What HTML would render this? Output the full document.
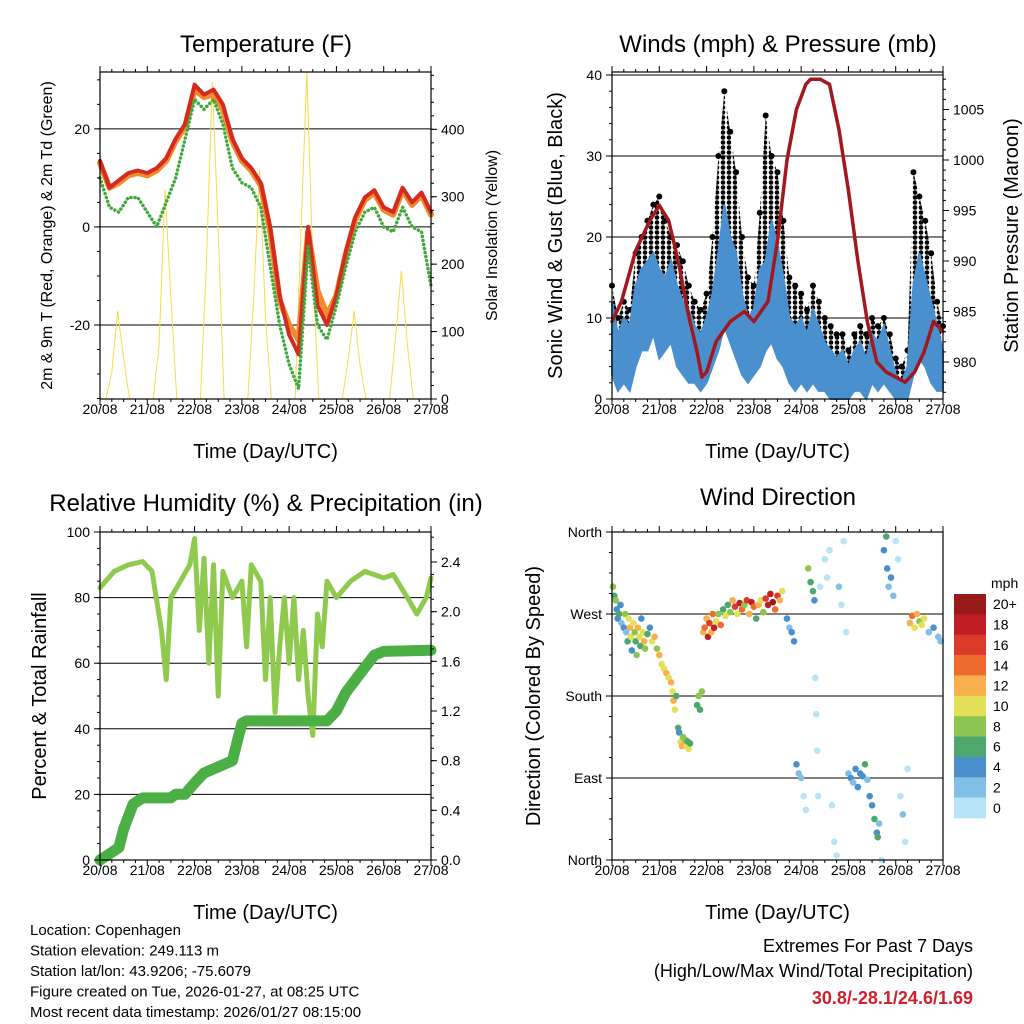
<!DOCTYPE html>
<html><head><meta charset="utf-8"><style>
body{margin:0;background:#fff;}
svg{display:block;font-family:"Liberation Sans",sans-serif;}
</style></head><body>
<svg id="chart" width="1024" height="1024" viewBox="0 0 1024 1024" xmlns="http://www.w3.org/2000/svg">
<defs>
<pattern id="dots" width="6" height="5" patternUnits="userSpaceOnUse"><circle cx="3" cy="2.5" r="2.3" fill="#000"/></pattern>
</defs>
<g id="layer"></g>
</svg>
<script>
// ---- data ----
const dayLabels = ["20/08","21/08","22/08","23/08","24/08","25/08","26/08","27/08"];
const tempTimes = [0,0.2,0.4,0.6,0.8,1.0,1.2,1.4,1.6,1.8,2.0,2.2,2.4,2.6,2.8,3.0,3.2,3.4,3.6,3.8,4.0,4.2,4.4,4.6,4.8,5.0,5.2,5.4,5.6,5.8,6.0,6.2,6.4,6.6,6.8,7.0];
const temp2m = [13.5,8,9.5,11,11.5,11,12,14,18,21,29,27,28,25,18,14,12,9,0,-14,-22,-26,0,-16,-20,-14,-5,2,6,7.5,4,3,8,5,7,3];
const temp9m = [13,8,9,10.5,11,10.5,11.5,13.5,17.5,20.5,28,26.5,27,24,17.5,13.5,11.5,8.5,-1,-15,-20,-23,-1,-13,-18,-14,-5.5,1.5,5.5,7,3.5,2.5,7.5,4.5,6.5,2.5];
const dewpoint = [10,4,3,6,6,3,0,5,10,18,26,24,26,21,12,9,8,4,-8,-20,-28,-33,-4,-20,-23,-16,-8,-1,3,4,0,-1,4,0,-1,-12];
const solarTimes = [0,0.125,0.25,0.375,0.5,0.625,0.75,0.875,1,1.125,1.25,1.375,1.5,1.625,1.75,1.875,2,2.125,2.25,2.375,2.5,2.625,2.75,2.875,3,3.125,3.25,3.375,3.5,3.625,3.75,3.875,4,4.125,4.25,4.375,4.5,4.625,4.75,4.875,5,5.125,5.25,5.375,5.5,5.625,5.75,5.875,6,6.125,6.25,6.375,6.5,6.625,6.75,6.875,7];
const solar = [0,0,40,130,60,0,0,0,0,0,80,310,150,0,0,0,0,0,200,470,250,0,0,0,0,0,150,340,120,0,0,0,0,0,250,485,200,0,0,0,0,0,60,130,50,0,0,0,0,0,90,190,80,0,0,0,0];
const windTimes = solarTimes;
const windHi = [12,8,10,9,14,16,17,18,16,15,17,14,12,11,9,8,10,13,18,24,20,18,13,10,11,16,17,22,19,15,10,9,10,8,11,9,7,6,5,6,4,6,7,5,8,7,9,6,3,2,4,14,18,15,12,9,6];
const windLo = [3,1,2,1,4,6,6,8,5,6,7,4,3,2,2,1,2,4,6,9,7,5,3,2,3,4,6,7,5,4,2,1,2,1,2,1,1,0,0,0,0,1,1,0,2,1,2,1,0,0,0,3,5,4,2,1,1];
const gust = [14,10,12,11,18,20,22,24,25,22,20,19,17,14,12,11,13,20,30,38,33,28,20,15,14,23,35,30,28,22,15,14,13,11,14,12,10,9,8,8,6,8,9,8,10,9,10,8,5,4,6,28,25,22,18,12,9];
const presTimes = [0,0.2,0.5,0.8,1.0,1.2,1.4,1.6,1.8,1.9,2.0,2.2,2.5,2.8,3.0,3.3,3.5,3.7,3.9,4.1,4.2,4.4,4.6,4.8,5.0,5.2,5.4,5.6,5.8,6.0,6.2,6.4,6.6,6.8,7.0];
const pressure = [984,986,991,994,995.5,994,990,985,981,978.5,979,982,984,985,984,986,992,1000,1005,1007.5,1008,1008,1007.5,1003,997,990,984,980,979,978.5,978,979,981,984,983];
const rhTimes = [0,0.3,0.6,0.9,1.1,1.3,1.4,1.5,1.7,1.9,2.0,2.1,2.2,2.3,2.4,2.5,2.6,2.8,3.0,3.1,3.2,3.4,3.5,3.6,3.7,3.8,3.9,4.0,4.1,4.2,4.3,4.4,4.5,4.6,4.7,4.8,5.0,5.3,5.6,6.0,6.2,6.5,6.7,6.9,7.0];
const rh = [83,88,90,91,88,70,55,80,85,90,98,70,92,60,90,50,88,80,85,65,90,85,55,80,45,65,80,60,80,55,70,50,38,75,65,85,80,85,88,86,87,80,75,80,86];
const rainTimes = [0,0.2,0.4,0.5,0.6,0.7,0.9,1.0,1.5,1.6,1.8,2.0,2.2,2.5,2.8,2.9,3.0,3.1,4.0,4.8,5.0,5.2,5.4,5.6,5.8,6.0,7.0];
const rain = [0,0.05,0.1,0.25,0.35,0.45,0.5,0.5,0.5,0.53,0.53,0.62,0.7,0.75,0.8,0.95,1.1,1.12,1.12,1.12,1.2,1.35,1.45,1.55,1.65,1.68,1.69];
const dirT = [0.02,0.05,0.08,0.1,0.12,0.15,0.18,0.2,0.25,0.28,0.3,0.33,0.35,0.38,0.4,0.42,0.45,0.48,0.5,0.52,0.55,0.58,0.6,0.62,0.65,0.68,0.7,0.75,0.8,0.85,0.9,0.95,1.0,1.05,1.1,1.15,1.2,1.25,1.28,1.3,1.33,1.36,1.4,1.42,1.45,1.48,1.5,1.52,1.55,1.58,1.6,1.62,1.65,1.8,1.83,1.86,1.9,1.93,1.96,2.0,2.03,2.06,2.1,2.13,2.16,2.2,2.25,2.3,2.35,2.4,2.45,2.5,2.55,2.6,2.65,2.7,2.75,2.8,2.85,2.9,2.95,3.0,3.05,3.1,3.15,3.2,3.25,3.3,3.35,3.4,3.45,3.5,3.55,3.6,3.7,3.75,3.8,3.85,3.9,3.95,4.0,4.05,4.1,4.15,4.2,4.25,4.28,4.3,4.32,4.34,4.36,4.4,4.5,4.55,4.6,4.65,4.7,4.75,4.8,4.85,4.9,4.95,5.0,5.05,5.1,5.15,5.2,5.25,5.3,5.35,5.4,5.45,5.5,5.55,5.6,5.62,5.65,5.7,5.75,5.8,5.82,5.85,5.9,5.95,6.0,6.05,6.1,6.15,6.2,6.25,6.3,6.35,6.4,6.45,6.5,6.55,6.6,6.7,6.8,6.9,6.95];
const dirD = [300,290,285,275,265,270,280,260,255,270,250,240,265,255,245,230,260,250,240,225,255,245,235,265,250,240,232,248,255,240,245,232,225,215,210,205,200,195,185,175,165,180,145,140,130,125,135,128,132,125,130,122,128,170,180,165,185,250,255,265,245,260,250,270,255,262,270,258,275,268,280,272,285,278,270,282,275,280,285,270,283,278,265,280,285,272,287,280,292,283,275,290,285,295,265,255,250,240,105,95,90,70,55,320,305,295,285,200,160,120,70,300,330,310,340,60,20,5,300,280,350,250,95,90,85,100,80,95,92,105,88,70,60,45,30,25,40,0,340,355,320,300,310,290,350,330,70,50,20,100,260,268,255,270,262,258,265,250,255,245,240];
const dirS = [8,6,8,4,4,6,4,3,4,8,2,6,10,12,11,4,10,8,6,9,12,10,6,4,11,12,8,6,4,10,12,9,12,10,11,12,10,13,11,12,10,7,6,4,10,12,9,13,8,11,6,10,7,7,8,6,9,13,15,12,18,16,12,14,19,10,8,14,7,10,6,8,12,16,10,18,14,9,16,12,18,14,6,12,10,8,16,19,18,20,14,16,12,10,4,3,4,5,4,3,2,1,1,8,6,7,5,1,1,1,1,0,1,1,0,1,0,1,2,1,0,1,3,4,3,4,4,5,4,6,2,4,4,6,5,6,3,1,4,6,4,3,4,2,1,0,1,2,1,1,12,14,10,12,8,11,10,3,4,3,2];
const speedLabels = ["20+","18","16","14","12","10","8","6","4","2","0"];
const speedColors = ["#b8e4f7","#82bfe6","#4a8fcb","#4ea86e","#8cc552","#e5e05a","#f8b04c","#ee6c2e","#dc3a2a","#be1e24","#971a1b"];

// ---- helpers ----
const NS="http://www.w3.org/2000/svg";
const layer=document.getElementById('layer');
function mk(tag,attrs,parent){const e=document.createElementNS(NS,tag);for(const k in attrs)e.setAttribute(k,attrs[k]);(parent||layer).appendChild(e);return e;}
function txt(s,x,y,size,anchor,parent,extra){const e=mk('text',Object.assign({x:x,y:y,'font-size':size,'text-anchor':anchor||'start',fill:'#000'},extra||{}),parent);e.textContent=s;return e;}
function scale(d0,d1,r0,r1){return v=>r0+(v-d0)/(d1-d0)*(r1-r0);}
function line(pts,attrs,parent){return mk('polyline',Object.assign({points:pts.map(p=>p[0].toFixed(1)+','+p[1].toFixed(1)).join(' '),fill:'none','stroke-linejoin':'round','stroke-linecap':'round'},attrs),parent);}

function frame(P,name){
  const g=mk('g',{});
  
  
  return g;
}
function box(g,P){mk('rect',{x:P.x0,y:P.y0,width:P.x1-P.x0,height:P.y1-P.y0,fill:'none',stroke:'#000','stroke-width':1.2},g);}
function xAxis(g,P,xs){
  const ax=mk('g',{},g);
  
  
  for(let i=0;i<dayLabels.length;i++){
    const x=xs(i);
    mk('line',{x1:x,y1:P.y1,x2:x,y2:P.y1+6,stroke:'#000','stroke-width':1},ax);
    mk('line',{x1:x,y1:P.y0,x2:x,y2:P.y0-6,stroke:'#000','stroke-width':1},ax);
    txt(dayLabels[i],x,P.y1+15,14,'middle',ax);
    if(i<7)for(let m=1;m<4;m++){const xm=xs(i+m/4);
      mk('line',{x1:xm,y1:P.y1,x2:xm,y2:P.y1+3,stroke:'#000'},ax);
      mk('line',{x1:xm,y1:P.y0,x2:xm,y2:P.y0-3,stroke:'#000'},ax);}
  }
  const t=txt('Time (Day/UTC)',(P.x0+P.x1)/2,P.y1+59,20,'middle',ax);
  
}
function yAxisL(g,P,ys,ticks,labels,minor,title,tsize,tx){
  const ax=mk('g',{},g);
  
  
  ticks.forEach((v,i)=>{const y=ys(v);mk('line',{x1:P.x0,y1:y,x2:P.x0-6,y2:y,stroke:'#000'},ax);
    txt(labels[i],P.x0-10,y+5,14,'end',ax);});
  minor.forEach(v=>{const y=ys(v);mk('line',{x1:P.x0,y1:y,x2:P.x0-3,y2:y,stroke:'#000'},ax);});
  const t=txt(title,tx,(P.y0+P.y1)/2,tsize,'middle',ax,{transform:`rotate(-90 ${tx} ${(P.y0+P.y1)/2})`});
  
}
function yAxisR(g,P,ys,ticks,labels,minor,title,tsize,tx){
  const ax=mk('g',{},g);
  
  
  ticks.forEach((v,i)=>{const y=ys(v);mk('line',{x1:P.x1,y1:y,x2:P.x1+6,y2:y,stroke:'#000'},ax);
    txt(labels[i],P.x1+10,y+5,14,'start',ax);});
  minor.forEach(v=>{const y=ys(v);mk('line',{x1:P.x1,y1:y,x2:P.x1+3,y2:y,stroke:'#000'},ax);});
  const t=txt(title,tx,(P.y0+P.y1)/2,tsize,'middle',ax,{transform:`rotate(-90 ${tx} ${(P.y0+P.y1)/2})`});
  
}
function grid(g,P,ys,vals){vals.forEach(v=>mk('line',{x1:P.x0,x2:P.x1,y1:ys(v),y2:ys(v),stroke:'#000','stroke-width':1},g));}
function title(g,s,x,y){const t=txt(s,x,y,24,'middle',g);}
function rng(a,b,s){const r=[];for(let v=a;v<=b+1e-9;v+=s)r.push(+v.toFixed(4));return r;}

// ---- Panel 1: temperature ----
{
const P={x0:100,x1:431,y0:72,y1:399};
const g=frame(P,'temperature-panel');
const xs=scale(0,7,P.x0,P.x1), ys=scale(-35.1,31.6,P.y1,P.y0), ysR=scale(0,485,P.y1,P.y0);
title(g,'Temperature (F)',266,52);
grid(g,P,ys,[-20,0,20]);
const sl=line(solarTimes.map((t,i)=>[xs(t),ysR(solar[i])]),{stroke:'#f5dc4a','stroke-width':1},g);

const l2=line(tempTimes.map((t,i)=>[xs(t),ys(temp9m[i])]),{stroke:'#f08a2c','stroke-width':6},g);

const l1=line(tempTimes.map((t,i)=>[xs(t),ys(temp2m[i])]),{stroke:'#d42a20','stroke-width':4},g);

const l3=line(tempTimes.map((t,i)=>[xs(t),ys(dewpoint[i])]),{stroke:'#3faa3c','stroke-width':3.5,'stroke-dasharray':'0.1 4'},g);

box(g,P);xAxis(g,P,xs);
yAxisL(g,P,ys,[-20,0,20],['-20','0','20'],rng(-35,30,5),'2m & 9m T (Red, Orange) & 2m Td (Green)',16,52);
yAxisR(g,P,ysR,[0,100,200,300,400],['0','100','200','300','400'],rng(0,480,20),'Solar Insolation (Yellow)',16,497);
}
// ---- Panel 2: winds ----
{
const P={x0:612,x1:943,y0:72,y1:399};
const g=frame(P,'winds-pressure-panel');
const xs=scale(0,7,P.x0,P.x1), ys=scale(0,40,P.y1,75), ysR=scale(1000,1005,160,109.5);
title(g,'Winds (mph) & Pressure (mb)',778,52);
grid(g,P,ys,[10,20,30,40]);
const up=windTimes.map((t,i)=>[xs(t),ys(gust[i])]), mid=windTimes.map((t,i)=>[xs(t),ys(windLo[i]+2)]).reverse();
const ga=mk('polygon',{points:up.concat(mid).map(p=>p.join(',')).join(' '),fill:'url(#dots)'},g);

windTimes.forEach((t,i)=>{const c=mk('circle',{cx:xs(t),cy:ys(gust[i]),r:3,fill:'#000'},g);
  });
const hi=windTimes.map((t,i)=>[xs(t),ys(windHi[i])]), lo=windTimes.map((t,i)=>[xs(t),ys(windLo[i])]).reverse();
const wa=mk('polygon',{points:hi.concat(lo).map(p=>p.join(',')).join(' '),fill:'#4a90cf',stroke:'#4a90cf','stroke-width':2},g);

const pl=line(presTimes.map((t,i)=>[xs(t),ysR(pressure[i])]),{stroke:'#a0191e','stroke-width':3.5},g);

box(g,P);xAxis(g,P,xs);
yAxisL(g,P,ys,[0,10,20,30,40],['0','10','20','30','40'],rng(0,40,2),'Sonic Wind & Gust (Blue, Black)',20,562);
yAxisR(g,P,ysR,[980,985,990,995,1000,1005],['980','985','990','995','1000','1005'],rng(977,1008,1),'Station Pressure (Maroon)',20,1018);
}
// ---- Panel 3: RH & precip ----
{
const P={x0:100,x1:431,y0:532,y1:860};
const g=frame(P,'humidity-precip-panel');
const xs=scale(0,7,P.x0,P.x1), ys=scale(0,100,P.y1,P.y0), ysR=scale(0,2.4,860,562);
title(g,'Relative Humidity (%) & Precipitation (in)',266,511);
grid(g,P,ys,[20,40,60,80]);
const rl=line(rhTimes.map((t,i)=>[xs(t),ys(rh[i])]),{stroke:'#8fca4e','stroke-width':5},g);

const pl=line(rainTimes.map((t,i)=>[xs(t),ysR(rain[i])]),{stroke:'#4caf45','stroke-width':11},g);

box(g,P);xAxis(g,P,xs);
yAxisL(g,P,ys,[0,20,40,60,80,100],['0','20','40','60','80','100'],rng(0,100,5),'Percent & Total Rainfall',20,46);
yAxisR(g,P,ysR,[0,0.4,0.8,1.2,1.6,2.0,2.4],['0.0','0.4','0.8','1.2','1.6','2.0','2.4'],rng(0,2.6,0.1),'',1,1200);
}
// ---- Panel 4: wind direction ----
{
const P={x0:612,x1:943,y0:532,y1:860};
const g=frame(P,'wind-direction-panel');
const xs=scale(0,7,P.x0,P.x1), ys=scale(0,360,P.y1,P.y0);
title(g,'Wind Direction',778,505);
grid(g,P,ys,[90,180,270]);
dirT.forEach((t,i)=>{const b=Math.min(10,Math.floor(dirS[i]/2));
  const c=mk('circle',{cx:xs(t),cy:ys(dirD[i]),r:3.3,fill:speedColors[b]},g);
  });
box(g,P);xAxis(g,P,xs);
yAxisL(g,P,ys,[0,90,180,270,360],['North','East','South','West','North'],rng(0,360,22.5),'Direction (Colored By Speed)',20,540);
const lg=mk('g',{},g);

txt('mph',991,588,14,'start',lg);
const bh=224/11;
speedLabels.forEach((s,i)=>{
  const r=mk('rect',{x:954,y:594+i*bh,width:32,height:bh+0.3,fill:speedColors[10-i]},lg);
  
  txt(s,993,594+i*bh+bh/2+5,14,'start',lg);});
}
// ---- footer ----
{
const f=mk('g',{});

["Location: Copenhagen","Station elevation: 249.113 m","Station lat/lon: 43.9206; -75.6079","Figure created on Tue, 2026-01-27, at 08:25 UTC","Most recent data timestamp: 2026/01/27 08:15:00"].forEach((s,i)=>txt(s,30,935+i*20.5,15,'start',f));
const e=mk('g',{});

txt('Extremes For Past 7 Days',973,952,18,'end',e);
txt('(High/Low/Max Wind/Total Precipitation)',973,977,18,'end',e);
txt('30.8/-28.1/24.6/1.69',973,1004,18,'end',e,{fill:'#d0202e','font-weight':'bold'});
}
</script>
</body></html>
